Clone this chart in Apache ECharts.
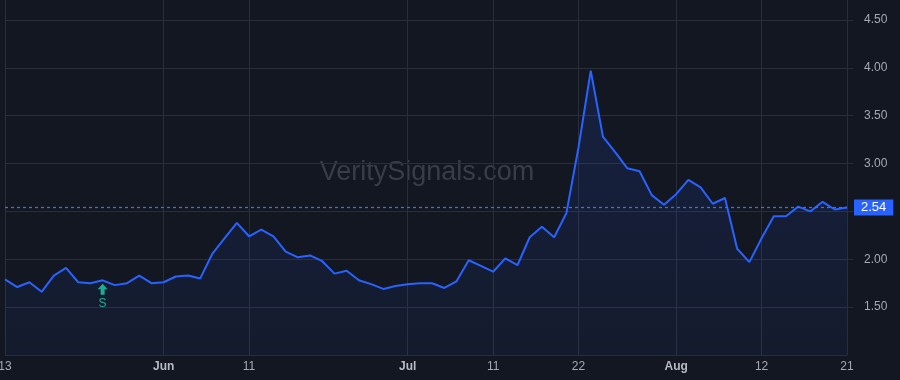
<!DOCTYPE html>
<html>
<head>
<meta charset="utf-8">
<title>VeritySignals</title>
<script src="https://cdn.jsdelivr.net/npm/echarts@6/dist/echarts.min.js"></script>
<style>
  html, body { margin: 0; padding: 0; background: #131722; }
  #chart { width: 900px; height: 380px; }
</style>
</head>
<body>
<div id="chart"></div>
<script>
// trading days, 13 May - 21 Aug
var days = [
  '05-13', '05-14', '05-15', '05-16', '05-17', '05-20', '05-21', '05-22', '05-23', '05-24',
  '05-28', '05-29', '05-30', '05-31', '06-03', '06-04', '06-05', '06-06', '06-07', '06-10',
  '06-11', '06-12', '06-13', '06-14', '06-17', '06-18', '06-20', '06-21', '06-24', '06-25',
  '06-26', '06-27', '06-28', '07-01', '07-02', '07-03', '07-05', '07-08', '07-09', '07-10',
  '07-11', '07-12', '07-15', '07-16', '07-17', '07-18', '07-19', '07-22', '07-23', '07-24',
  '07-25', '07-26', '07-29', '07-30', '07-31', '08-01', '08-02', '08-05', '08-06', '08-07',
  '08-08', '08-09', '08-12', '08-13', '08-14', '08-15', '08-16', '08-19', '08-20', '08-21'
];
var prices = [
  1.79, 1.71, 1.76, 1.66, 1.83, 1.91, 1.76, 1.75, 1.78, 1.73,
  1.75, 1.83, 1.75, 1.76, 1.82, 1.83, 1.80, 2.06, 2.22, 2.38,
  2.24, 2.31, 2.24, 2.08, 2.02, 2.04, 1.98, 1.85, 1.88, 1.78,
  1.74, 1.69, 1.72, 1.74, 1.75, 1.75, 1.70, 1.77, 1.99, 1.93,
  1.87, 2.01, 1.94, 2.23, 2.34, 2.23, 2.48, 3.17, 3.97, 3.28,
  3.12, 2.95, 2.92, 2.67, 2.57, 2.68, 2.83, 2.75, 2.58, 2.64,
  2.11, 1.97, 2.22, 2.45, 2.45, 2.55, 2.50, 2.60, 2.52, 2.54
];
var tickIndex = [0, 13, 20, 33, 40, 47, 55, 62, 69];
var tickLabels = ['13', 'Jun', '11', 'Jul', '11', '22', 'Aug', '12', '21'];
var monthLabels = ['Jun', 'Jul', 'Aug'];
var signalIndex = 8;
var signalText = 'S';

var lastPrice = prices[prices.length - 1];
var fontFamily = '"Liberation Sans", Arial, sans-serif';
var gridColor = '#2a2e39';
var textColor = '#a6a9b2';
var blue = '#2962ff';
var green = '#22ab94';

function isTick(index) {
    return tickIndex.indexOf(index) >= 0;
}

var chart = echarts.init(document.getElementById('chart'));

chart.setOption({
    backgroundColor: '#131722',
    animation: false,
    textStyle: { fontFamily: fontFamily },
    grid: { left: 5, right: 53, top: -4, bottom: 25, outerBoundsMode: 'none', containLabel: false },
    graphic: [{
        type: 'text',
        x: 427,
        y: 173,
        silent: true,
        z: 0,
        style: {
            text: 'VeritySignals.com',
            fill: '#393d49',
            fontSize: 27,
            fontFamily: fontFamily,
            textAlign: 'center',
            textVerticalAlign: 'middle'
        }
    }],
    xAxis: {
        type: 'category',
        data: days,
        boundaryGap: false,
        axisLine: { show: false },
        axisTick: { show: false },
        splitLine: {
            show: true,
            interval: isTick,
            lineStyle: { color: gridColor, width: 1 }
        },
        axisLabel: {
            interval: isTick,
            margin: 6,
            fontSize: 12,
            color: textColor,
            formatter: function (value, index) {
                var label = tickLabels[tickIndex.indexOf(index)];
                if (monthLabels.indexOf(label) >= 0) {
                    return '{m|' + label + '}';
                }
                return label;
            },
            rich: {
                m: { fontWeight: 'bold', color: '#b8bbc4', fontSize: 12, fontFamily: fontFamily }
            }
        }
    },
    yAxis: {
        type: 'value',
        position: 'right',
        min: 1,
        max: 4.75,
        interval: 0.5,
        axisLine: { show: false },
        axisTick: { show: true, length: 6, lineStyle: { color: gridColor } },
        splitLine: { lineStyle: { color: gridColor, width: 1 } },
        axisLabel: {
            margin: 17,
            fontSize: 12,
            color: textColor,
            showMinLabel: false,
            showMaxLabel: false,
            formatter: function (v) {
                // the last price label covers 2.50
                if (v === 2.5) return '';
                return v.toFixed(2);
            }
        }
    },
    series: [{
        type: 'line',
        data: prices,
        symbol: 'none',
        z: 3,
        lineStyle: { color: blue, width: 2 },
        areaStyle: {
            color: new echarts.graphic.LinearGradient(0, 0, 0, 1, [
                { offset: 0, color: 'rgba(41, 98, 255, 0.20)' },
                { offset: 1, color: 'rgba(41, 98, 255, 0.07)' }
            ])
        },
        emphasis: { disabled: true },
        markLine: {
            silent: true,
            symbol: ['none', 'none'],
            animation: false,
            lineStyle: { color: '#3a6dff', type: [3, 3], width: 1.3, opacity: 1 },
            label: {
                position: 'end',
                distance: 7,
                formatter: lastPrice.toFixed(2),
                color: '#ffffff',
                fontSize: 13,
                lineHeight: 14,
                backgroundColor: blue,
                padding: [1, 7, 1, 7]
            },
            data: [{ yAxis: lastPrice }]
        },
        markPoint: {
            silent: true,
            symbol: 'path://M5,0 L10,5 L7,5 L7,10 L3,10 L3,5 L0,5 Z',
            symbolSize: [10, 11],
            symbolOffset: [0, 9],
            itemStyle: { color: green },
            label: {
                show: true,
                position: 'bottom',
                distance: 3,
                formatter: signalText,
                color: green,
                fontSize: 12
            },
            data: [{ coord: [signalIndex, prices[signalIndex]] }]
        }
    }]
});
</script>
</body>
</html>
